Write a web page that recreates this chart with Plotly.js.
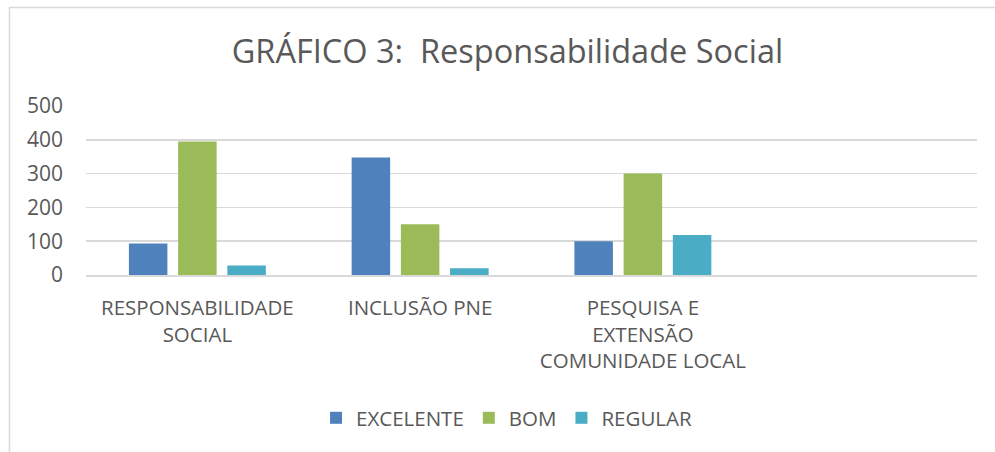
<!DOCTYPE html>
<html>
<head>
<meta charset="utf-8">
<script src="https://cdn.plot.ly/plotly-3.0.1.min.js"></script>
<style>html,body{margin:0;padding:0;background:#fff;}#chart{width:995px;height:452px;}</style>
</head>
<body>
<div id="chart"></div>
<script>
const categories = ["RESPONSABILIDADE<br>SOCIAL", "INCLUSÃO PNE", "PESQUISA E<br>EXTENSÃO<br>COMUNIDADE LOCAL"];
const excelente = [93, 348, 100];
const bom = [395, 150, 300];
const regular = [28, 20, 118];
const yTicks = [0, 100, 200, 300, 400, 500];

const font = {family: "Open Sans, Liberation Sans, sans-serif", color: "#595959"};
const traces = [
  {type: "bar", name: "EXCELENTE", x: categories, y: excelente, marker: {color: "#4F81BD"}},
  {type: "bar", name: "BOM", x: categories, y: bom, marker: {color: "#9BBB59"}},
  {type: "bar", name: "REGULAR", x: categories, y: regular, marker: {color: "#4BACC6"}}
];
const layout = {
  width: 995, height: 452,
  margin: {l: 86, r: 18, t: 106, b: 177, pad: 0},
  paper_bgcolor: "#fff", plot_bgcolor: "#fff",
  font: Object.assign({size: 20}, font),
  title: {text: "GRÁFICO 3:  Responsabilidade Social", font: Object.assign({size: 32.5}, font),
          x: 0.51, xanchor: "center", y: 0.885, yanchor: "middle", xref: "container", yref: "container"},
  barmode: "group", bargap: 0.337, bargroupgap: 0.218,
  xaxis: {type: "category", range: [-0.5, 3.5], showgrid: false, showline: true, linecolor: "#d9d9d9", linewidth: 1.5,
          ticks: "", tickfont: Object.assign({size: 20.5}, font), ticklabelstandoff: 14, fixedrange: true},
  yaxis: {range: [0, 500], tickvals: yTicks, ticktext: yTicks.map(String), showgrid: true, gridcolor: "#d9d9d9", gridwidth: 1.5,
          zeroline: false, showline: false, ticks: "", tickfont: Object.assign({size: 21}, font), ticklabelstandoff: 22, fixedrange: true},
  showlegend: true,
  legend: {orientation: "h", x: 0.472, xanchor: "center", y: -0.846, yanchor: "middle",
           font: Object.assign({size: 20.5}, font), itemwidth: 30, traceorder: "normal"},
  shapes: [{type: "rect", xref: "paper", yref: "paper", x0: -0.0859, x1: 1.2, y0: -1.5, y1: 1.583,
            line: {color: "#d9d9d9", width: 1.5}, fillcolor: "rgba(0,0,0,0)", layer: "below"}]
};
Plotly.newPlot("chart", traces, layout, {displayModeBar: false, staticPlot: true});
</script>
</body>
</html>
